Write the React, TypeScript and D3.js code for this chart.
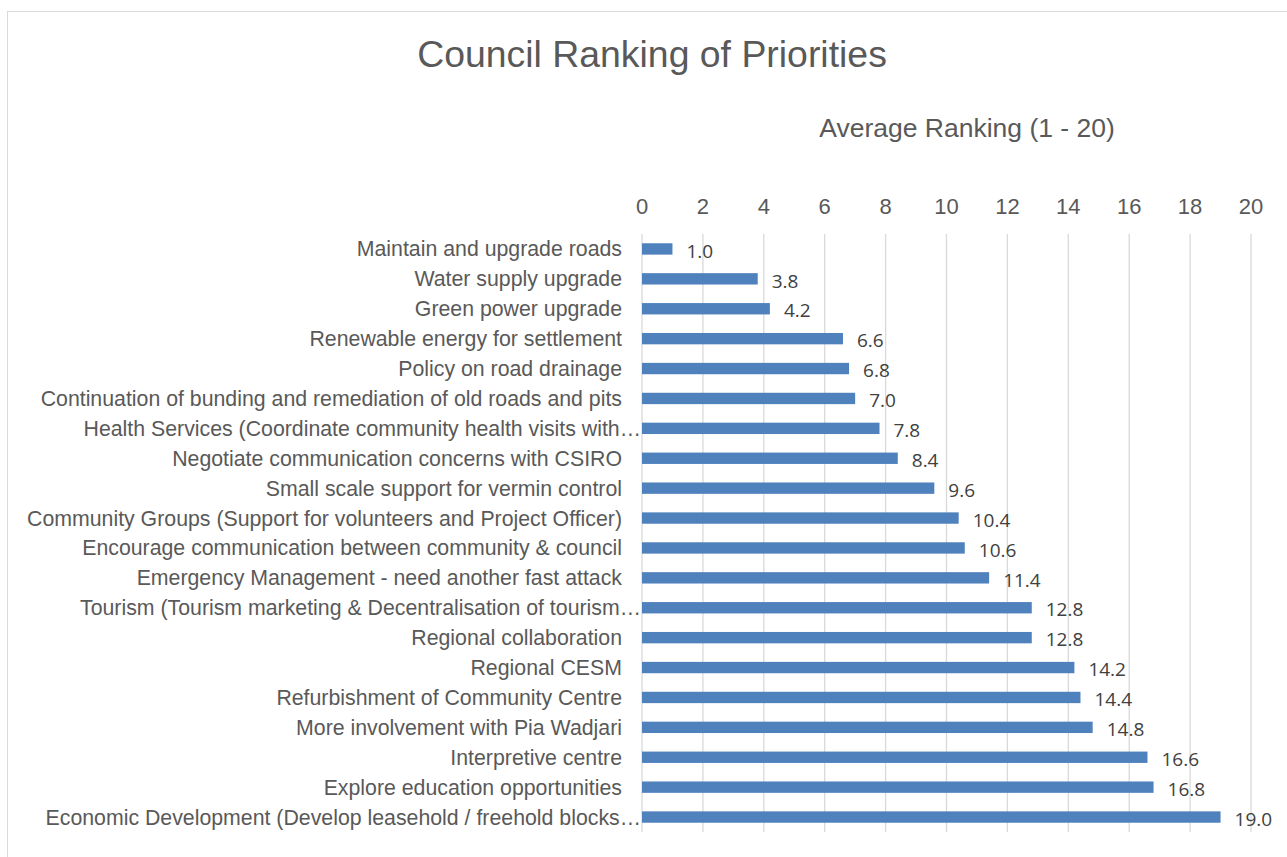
import { useMemo } from "react";
import * as d3 from "d3";

const TITLE = "Council Ranking of Priorities";
const AXIS_TITLE = "Average Ranking (1 - 20)";

const CATEGORIES = [
  "Maintain and upgrade roads",
  "Water supply upgrade",
  "Green power upgrade",
  "Renewable energy for settlement",
  "Policy on road drainage",
  "Continuation of bunding and remediation of old roads and pits",
  "Health Services (Coordinate community health visits with…",
  "Negotiate communication concerns with CSIRO",
  "Small scale support for vermin control",
  "Community Groups (Support for volunteers and Project Officer)",
  "Encourage communication between community & council",
  "Emergency Management - need another fast attack",
  "Tourism (Tourism marketing & Decentralisation of tourism…",
  "Regional collaboration",
  "Regional CESM",
  "Refurbishment of Community Centre",
  "More involvement with Pia Wadjari",
  "Interpretive centre",
  "Explore education opportunities",
  "Economic Development (Develop leasehold / freehold blocks…",
];

const VALUES = [
  1.0, 3.8, 4.2, 6.6, 6.8, 7.0, 7.8, 8.4, 9.6, 10.4, 10.6, 11.4, 12.8, 12.8,
  14.2, 14.4, 14.8, 16.6, 16.8, 19.0,
];

const TICKS = [0, 2, 4, 6, 8, 10, 12, 14, 16, 18, 20];

const WIDTH = 1287;
const HEIGHT = 857;
const PLOT = { left: 642, right: 1251, top: 234, bottom: 832 };
const FONT = "'Liberation Sans', Arial, sans-serif";
const VALUE_FONT = "'Open Sans', 'Noto Sans', sans-serif";
const BAR = "#4f81bd";
const GRID = "#d9d9d9";
const TEXT = "#595959";

export default function App() {
  const x = useMemo(
    () => d3.scaleLinear().domain([0, 20]).range([PLOT.left, PLOT.right]),
    []
  );
  const y = useMemo(
    () =>
      d3
        .scaleBand<string>()
        .domain(CATEGORIES)
        .range([PLOT.top, PLOT.bottom])
        .paddingInner(0.62)
        .paddingOuter(0.31),
    []
  );

  return (
    <div style={{ position: "fixed", left: 0, top: 0, width: WIDTH, height: HEIGHT, background: "#fff" }}>
      <svg width={WIDTH} height={HEIGHT} style={{ display: "block" }}>
        <rect x={7.5} y={11.5} width={WIDTH} height={HEIGHT} fill="#fff" stroke={GRID} />

        <text x={652} y={67} textAnchor="middle" fill={TEXT} fontFamily={FONT} fontSize={37.4}>
          {TITLE}
        </text>
        <text x={967} y={137} textAnchor="middle" fill={TEXT} fontFamily={FONT} fontSize={26.5}>
          {AXIS_TITLE}
        </text>

        {/* grid + top axis labels */}
        {TICKS.map((t) => (
          <g key={t}>
            <line x1={x(t)} x2={x(t)} y1={PLOT.top} y2={PLOT.bottom} stroke={GRID} strokeWidth={1.3} />
            <text x={x(t)} y={214} textAnchor="middle" fill={TEXT} fontFamily={FONT} fontSize={22}>
              {t}
            </text>
          </g>
        ))}

        {CATEGORIES.map((c, i) => {
          const by = y(c)!;
          const cy = by + y.bandwidth() / 2;
          const v = VALUES[i];
          const clipped = c.endsWith("…");
          return (
            <g key={c}>
              <rect x={x(0)} y={by} width={x(v) - x(0)} height={y.bandwidth()} fill={BAR} />
              <text
                x={clipped ? x(0) - 1 : x(0) - 20}
                y={cy}
                dy="0.35em"
                textAnchor="end"
                fill={TEXT}
                fontFamily={FONT}
                fontSize={21.3}
              >
                {c}
              </text>
              <text x={x(v) + 14} y={cy + 2} dy="0.35em" fill="#404040" fontFamily={VALUE_FONT} fontSize={19}>
                {v.toFixed(1)}
              </text>
            </g>
          );
        })}
      </svg>
    </div>
  );
}
